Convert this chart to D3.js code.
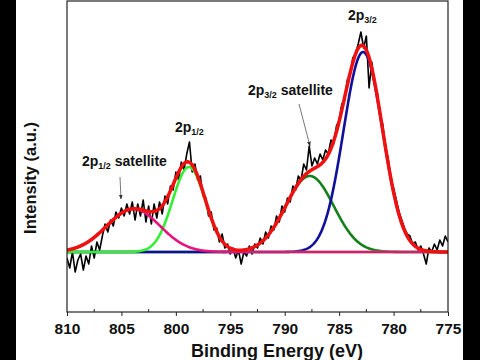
<!DOCTYPE html>
<html><head><meta charset="utf-8">
<script src="https://cdn.jsdelivr.net/npm/d3@7/dist/d3.min.js"></script>
<style>body{margin:0;background:#fff}svg{display:block}text{font-family:"Liberation Sans",Arial,sans-serif}</style>
</head><body>
<svg id="c" width="480" height="360"></svg>
<script>
// Measured spectrum (binding energy from 810 eV down to 775 eV, 0.25 eV step)
const energyStart = 810, energyStep = -0.25;
const intensity = [
 -3,-8,0,-10,-4,-1,-9,-2,-6,3,-3,5,1,8,14,10,16,13,20,17,
 22,18,24,19,25,16,24,18,26,15,23,14,24,17,25,19,28,24,33,31,
 40,36,45,41,49,55,40,44,36,38,28,27,18,20,11,12,5,9,2,4,
 -1,2,-3,1,-6,0,-2,3,-1,4,2,7,4,10,7,13,11,18,15,23,
 20,27,25,33,31,38,36,44,41,53,43,47,44,49,46,51,49,56,54,63,
 66,74,76,86,88,97,99,104,110,102,108,82,95,84,80,68,64,52,47,36,
 32,26,20,16,12,9,8,4,5,1,3,-1,-6,2,0,4,1,6,3,8,5
];
// Gaussian fit components
const peakNames   = ["2p1/2 satellite","2p1/2","2p3/2 satellite","2p3/2"];
const peakCenters = [803.9, 798.8, 787.7, 782.8];
const peakHeights = [21.5, 42.5, 38, 100];
const peakWidths  = [2.45, 1.5, 2.2, 1.8];
const peakColors  = ["#e8127c","#33ee33","#13801a","#10109a"];
const xTicks = [810,805,800,795,790,785,780,775];
const labels = [
  {main:"2p", sub:"3/2", rest:"", x:348, y:20},
  {main:"2p", sub:"3/2", rest:" satellite", x:248, y:95},
  {main:"2p", sub:"1/2", rest:"", x:175, y:132},
  {main:"2p", sub:"1/2", rest:" satellite", x:82, y:166}
];

const svg = d3.select("#c");
svg.append("rect").attr("x",0).attr("y",0).attr("width",480).attr("height",360).attr("fill","#fff");
svg.append("rect").attr("x",0).attr("y",0).attr("width",16).attr("height",360).attr("fill","#000");
svg.append("rect").attr("x",463).attr("y",0).attr("width",17).attr("height",360).attr("fill","#000");

const L=67, R=448, T=1, B=312;
const x = d3.scaleLinear().domain([810,775]).range([L,R]);
const y = d3.scaleLinear().domain([-30,125.5]).range([B,T]);

const data = intensity.map((v,i)=>({e: energyStart + i*energyStep, v}));
const fine = d3.range(810, 774.99, -0.05);
const gauss = (e,k)=> peakHeights[k]*Math.exp(-((e-peakCenters[k])**2)/(2*peakWidths[k]**2));

const g = svg.append("g");
g.append("clipPath").attr("id","clip").append("rect").attr("x",L).attr("y",T).attr("width",R-L).attr("height",B-T);
const plot = g.append("g").attr("clip-path","url(#clip)");
const line = d3.line().x(d=>x(d[0])).y(d=>y(d[1]));

plot.append("path").datum(data.map(d=>[d.e,d.v])).attr("d",line)
  .attr("fill","none").attr("stroke","#000").attr("stroke-width",1.6).attr("stroke-linejoin","round");

const order = [2,3,1,0];
order.forEach(k=>{
  plot.append("path").datum(fine.map(e=>[e,gauss(e,k)])).attr("d",line)
    .attr("fill","none").attr("stroke",peakColors[k]).attr("stroke-width",2.6);
});
plot.append("path").datum(fine.map(e=>[e,d3.sum(peakCenters,(c,k)=>gauss(e,k))])).attr("d",line)
  .attr("fill","none").attr("stroke","#f01010").attr("stroke-width",3.5);

// frame
g.append("rect").attr("x",L).attr("y",T).attr("width",R-L).attr("height",B-T)
  .attr("fill","none").attr("stroke","#222").attr("stroke-width",1.2);

// x axis
const ax = g.append("g").attr("transform",`translate(0,${B})`)
  .call(d3.axisBottom(x).tickValues(xTicks).tickSize(4).tickSizeOuter(0).tickPadding(7).tickFormat(d3.format("d")));
ax.select(".domain").remove();
ax.selectAll("line").attr("stroke","#222");
ax.selectAll("text").attr("font-size",15.5).attr("font-weight","bold").attr("fill","#111");
const minor = d3.range(807.5,776,-5);
g.append("g").selectAll("line").data(minor).join("line")
  .attr("x1",d=>x(d)).attr("x2",d=>x(d)).attr("y1",B).attr("y2",B-3).attr("stroke","#222");

svg.append("text").attr("x",277).attr("y",357).attr("text-anchor","middle")
  .attr("font-size",18).attr("font-weight","bold").attr("fill","#111").text("Binding Energy (eV)");
svg.append("text").attr("transform","translate(36,178) rotate(-90)").attr("text-anchor","middle")
  .attr("font-size",16.5).attr("font-weight","bold").attr("fill","#111").text("Intensity (a.u.)");

labels.forEach(l=>{
  const t = svg.append("text").attr("x",l.x).attr("y",l.y).attr("font-size",14).attr("font-weight","bold").attr("fill","#111");
  t.append("tspan").text(l.main);
  t.append("tspan").attr("font-size",9).attr("dy",3).text(l.sub);
  if(l.rest) t.append("tspan").attr("dy",-3).text(l.rest);
});

// arrows
const defs = svg.append("defs");
defs.append("marker").attr("id","ah").attr("viewBox","0 0 10 10").attr("refX",9).attr("refY",5)
  .attr("markerWidth",6).attr("markerHeight",6).attr("orient","auto")
  .append("path").attr("d","M0,1 L10,5 L0,9 z").attr("fill","#333");
[[120,177,121,199],[299,104,310,146]].forEach(a=>{
  svg.append("line").attr("x1",a[0]).attr("y1",a[1]).attr("x2",a[2]).attr("y2",a[3])
    .attr("stroke","#555").attr("stroke-width",0.8).attr("marker-end","url(#ah)");
});
</script>
</body></html>
